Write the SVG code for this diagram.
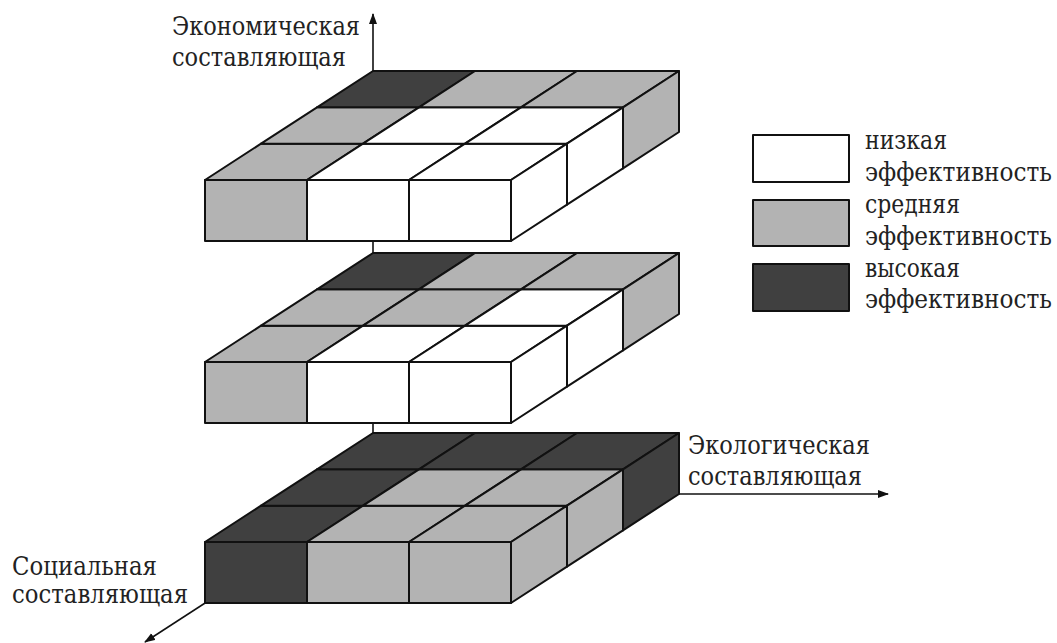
<svg xmlns="http://www.w3.org/2000/svg" width="1057" height="643" viewBox="0 0 1057 643">
<defs>
<marker id="arr" markerUnits="userSpaceOnUse" markerWidth="12" markerHeight="10" refX="10" refY="4" orient="auto">
<path d="M0,0 L11,4 L0,8 Z" fill="#111"/>
</marker>
</defs>
<style>
.w{fill:#ffffff}
.g{fill:#b3b3b3}
.d{fill:#404040}
.c{stroke:#111;stroke-width:2;stroke-linejoin:round}
.ax{stroke:#111;stroke-width:1.6;fill:none}
.t{font-family:'DejaVu Serif',serif;font-size:26px;fill:#222}
</style>
<rect width="1057" height="643" fill="#fff"/>
<g id="connectors">
<line class="ax" x1="373" y1="494" x2="373" y2="14" marker-end="url(#arr)"/>
<line class="ax" x1="373" y1="494" x2="888" y2="494" marker-end="url(#arr)"/>
<line class="ax" x1="373" y1="494" x2="145" y2="642" marker-end="url(#arr)"/>
</g>
<g id="layer-top" transform="translate(0,180)">
<g class="c">
<polygon class="g" points="205,0 307,0 363,-36.33 261,-36.33"/>
<polygon class="w" points="307,0 409,0 465,-36.33 363,-36.33"/>
<polygon class="w" points="409,0 511,0 567,-36.33 465,-36.33"/>
<polygon class="g" points="261,-36.33 363,-36.33 419,-72.67 317,-72.67"/>
<polygon class="w" points="363,-36.33 465,-36.33 521,-72.67 419,-72.67"/>
<polygon class="w" points="465,-36.33 567,-36.33 623,-72.67 521,-72.67"/>
<polygon class="d" points="317,-72.67 419,-72.67 475,-109 373,-109"/>
<polygon class="g" points="419,-72.67 521,-72.67 577,-109 475,-109"/>
<polygon class="g" points="521,-72.67 623,-72.67 679,-109 577,-109"/>
<rect class="g" x="205" y="0" width="102" height="61"/>
<rect class="w" x="307" y="0" width="102" height="61"/>
<rect class="w" x="409" y="0" width="102" height="61"/>
<polygon class="w" points="511,0 567,-36.33 567,24.67 511,61"/>
<polygon class="w" points="567,-36.33 623,-72.67 623,-11.67 567,24.67"/>
<polygon class="g" points="623,-72.67 679,-109 679,-48 623,-11.67"/>
</g>
</g>
<g id="layer-middle" transform="translate(0,362)">
<g class="c">
<polygon class="g" points="205,0 307,0 363,-36.33 261,-36.33"/>
<polygon class="w" points="307,0 409,0 465,-36.33 363,-36.33"/>
<polygon class="w" points="409,0 511,0 567,-36.33 465,-36.33"/>
<polygon class="g" points="261,-36.33 363,-36.33 419,-72.67 317,-72.67"/>
<polygon class="g" points="363,-36.33 465,-36.33 521,-72.67 419,-72.67"/>
<polygon class="w" points="465,-36.33 567,-36.33 623,-72.67 521,-72.67"/>
<polygon class="d" points="317,-72.67 419,-72.67 475,-109 373,-109"/>
<polygon class="g" points="419,-72.67 521,-72.67 577,-109 475,-109"/>
<polygon class="g" points="521,-72.67 623,-72.67 679,-109 577,-109"/>
<rect class="g" x="205" y="0" width="102" height="61"/>
<rect class="w" x="307" y="0" width="102" height="61"/>
<rect class="w" x="409" y="0" width="102" height="61"/>
<polygon class="w" points="511,0 567,-36.33 567,24.67 511,61"/>
<polygon class="w" points="567,-36.33 623,-72.67 623,-11.67 567,24.67"/>
<polygon class="g" points="623,-72.67 679,-109 679,-48 623,-11.67"/>
</g>
</g>
<g id="layer-bottom" transform="translate(0,542)">
<g class="c">
<polygon class="d" points="205,0 307,0 363,-36.33 261,-36.33"/>
<polygon class="g" points="307,0 409,0 465,-36.33 363,-36.33"/>
<polygon class="g" points="409,0 511,0 567,-36.33 465,-36.33"/>
<polygon class="d" points="261,-36.33 363,-36.33 419,-72.67 317,-72.67"/>
<polygon class="g" points="363,-36.33 465,-36.33 521,-72.67 419,-72.67"/>
<polygon class="g" points="465,-36.33 567,-36.33 623,-72.67 521,-72.67"/>
<polygon class="d" points="317,-72.67 419,-72.67 475,-109 373,-109"/>
<polygon class="d" points="419,-72.67 521,-72.67 577,-109 475,-109"/>
<polygon class="d" points="521,-72.67 623,-72.67 679,-109 577,-109"/>
<rect class="d" x="205" y="0" width="102" height="61"/>
<rect class="g" x="307" y="0" width="102" height="61"/>
<rect class="g" x="409" y="0" width="102" height="61"/>
<polygon class="g" points="511,0 567,-36.33 567,24.67 511,61"/>
<polygon class="g" points="567,-36.33 623,-72.67 623,-11.67 567,24.67"/>
<polygon class="d" points="623,-72.67 679,-109 679,-48 623,-11.67"/>
</g>
</g>
<g id="axis-labels" class="t">
<text x="172" y="35" textLength="188" lengthAdjust="spacingAndGlyphs">Экономическая</text>
<text x="172" y="66" textLength="174" lengthAdjust="spacingAndGlyphs">составляющая</text>
<text x="688" y="454" textLength="182" lengthAdjust="spacingAndGlyphs">Экологическая</text>
<text x="688" y="485" textLength="174" lengthAdjust="spacingAndGlyphs">составляющая</text>
<text x="12" y="575" textLength="145" lengthAdjust="spacingAndGlyphs">Социальная</text>
<text x="12" y="603" textLength="176" lengthAdjust="spacingAndGlyphs">составляющая</text>
</g>
<g id="legend-low" class="t">
<rect class="c w" x="753" y="135" width="96" height="47"/>
<text x="865" y="149" textLength="82" lengthAdjust="spacingAndGlyphs">низкая</text>
<text x="865" y="181" textLength="187" lengthAdjust="spacingAndGlyphs">эффективность</text>
</g>
<g id="legend-mid" class="t">
<rect class="c g" x="753" y="200" width="96" height="46"/>
<text x="865" y="213" textLength="95" lengthAdjust="spacingAndGlyphs">средняя</text>
<text x="865" y="245" textLength="187" lengthAdjust="spacingAndGlyphs">эффективность</text>
</g>
<g id="legend-high" class="t">
<rect class="c d" x="753" y="264" width="96" height="47"/>
<text x="865" y="277" textLength="95" lengthAdjust="spacingAndGlyphs">высокая</text>
<text x="865" y="308" textLength="187" lengthAdjust="spacingAndGlyphs">эффективность</text>
</g>
</svg>
